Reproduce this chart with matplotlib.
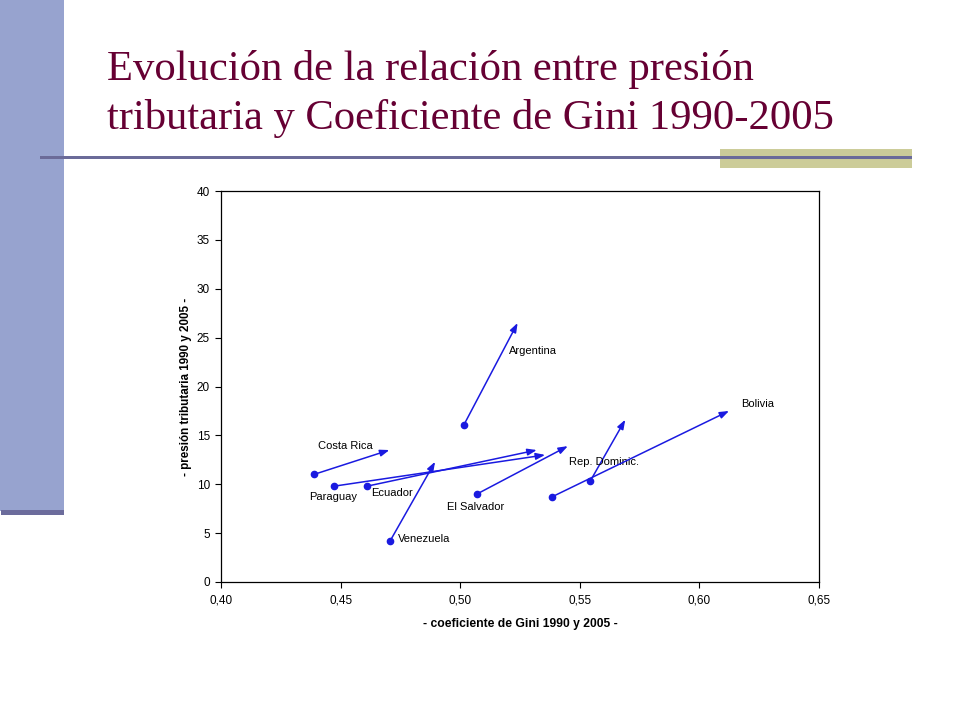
import matplotlib
matplotlib.use("Agg")
import matplotlib.pyplot as plt
from matplotlib.patches import Rectangle
from matplotlib.ticker import FuncFormatter

countries = ["Argentina", "Costa Rica", "Paraguay", "Ecuador", "Venezuela",
             "El Salvador", "Rep. Dominic.", "Bolivia"]
gini_1990 = [0.5016, 0.4388, 0.4472, 0.4610, 0.4707, 0.5070, 0.5543, 0.5383]
gini_2005 = [0.5240, 0.4704, 0.5355, 0.5320, 0.4895, 0.5450, 0.5690, 0.6124]
tax_1990 = [16.1, 11.0, 9.8, 9.8, 4.2, 9.0, 10.3, 8.7]
tax_2005 = [26.5, 13.5, 13.0, 13.5, 12.3, 13.9, 16.6, 17.5]

x_ticks = [0.40, 0.45, 0.50, 0.55, 0.60, 0.65]
y_ticks = [0, 5, 10, 15, 20, 25, 30, 35, 40]

title = "Evolución de la relación entre presión\ntributaria y Coeficiente de Gini 1990-2005"
xlabel = "- coeficiente de Gini 1990 y 2005 -"
ylabel = "- presión tributaria 1990 y 2005 -"

# label placement: (anchor: 0=start,1=end, offset in points)
label_pos = {
    "Argentina": (1, (-6.3, -20.4)),
    "Costa Rica": (0, (2.9, 20.7)),
    "Paraguay": (0, (-17.8, -8.1)),
    "Ecuador": (0, (2.7, -4.8)),
    "Venezuela": (0, (6.0, 1.4)),
    "El Salvador": (0, (-21.8, -9.4)),
    "Rep. Dominic.": (0, (-15.3, 14.2)),
    "Bolivia": (1, (8.4, 5.0)),
}

fig = plt.figure(figsize=(9.6, 7.2), dpi=100)
W, H = 960, 720

def px_rect(x0, y0, x1, y1, color):
    fig.patches.append(Rectangle((x0 / W, 1 - y1 / H), (x1 - x0) / W, (y1 - y0) / H,
                                 transform=fig.transFigure, facecolor=color,
                                 edgecolor="none", zorder=0))

# slide decoration
px_rect(0, 0, 64, 511, "#97A3CF")
px_rect(1, 510, 64, 515, "#6C6C9C")
px_rect(720, 149, 912, 168, "#CCCC99")
px_rect(40, 156, 912, 158.5, "#6B6B99")

fig.text(107 / W, 1 - 129.5 / H, title, fontsize=30.7, family="Liberation Serif",
         color="#660033", va="baseline", ha="left", linespacing=1.36)

ax = fig.add_axes([221 / W, 1 - 582 / H, 598 / W, 391 / H])
ax.set_xlim(0.40, 0.65)
ax.set_ylim(0, 40)
ax.set_xticks(x_ticks)
ax.set_yticks(y_ticks)
ax.xaxis.set_major_formatter(FuncFormatter(lambda v, p: f"{v:.2f}".replace(".", ",")))
ax.tick_params(direction="out", length=4, width=0.8, labelsize=8.5)
ax.tick_params(axis="x", pad=5)
ax.tick_params(axis="y", pad=4)
for lab in ax.get_xticklabels() + ax.get_yticklabels():
    lab.set_family("Liberation Sans")
for s in ax.spines.values():
    s.set_linewidth(0.9)
ax.set_xlabel(xlabel, fontsize=8.7, fontweight="bold", family="Liberation Sans", labelpad=8)
ax.set_ylabel(ylabel, fontsize=8.4, fontweight="bold", family="Liberation Sans", labelpad=3)

blue = "#1a1ae0"
for name, x0, x1, y0, y1 in zip(countries, gini_1990, gini_2005, tax_1990, tax_2005):
    ax.annotate("", xy=(x1, y1), xytext=(x0, y0),
                arrowprops=dict(arrowstyle="-|>,head_length=0.55,head_width=0.2",
                                color=blue, lw=1.1, shrinkA=0, shrinkB=0))
    ax.plot([x0], [y0], "o", color=blue, markersize=4.5, zorder=3)
    anchor, off = label_pos[name]
    pt = (x0, y0) if anchor == 0 else (x1, y1)
    ax.annotate(name, xy=pt, xytext=off, textcoords="offset points",
                fontsize=8, family="Liberation Sans", va="center", ha="left")

fig.savefig("out.png", dpi=100)
